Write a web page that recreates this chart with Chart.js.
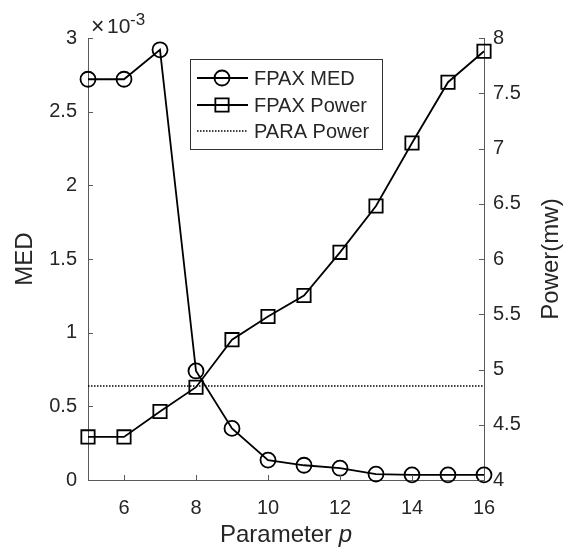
<!DOCTYPE html>
<html lang="en">
<head>
    <meta charset="UTF-8">
    <title>FPAX MED and Power vs Parameter p</title>
    <script src="https://cdn.jsdelivr.net/npm/chart.js"></script>
    <style>
        body { margin: 0; background: #fff; }
        canvas { display: block; }
    </style>
</head>
<body>
    <canvas id="med-chart" width="576" height="548"></canvas>

    <script>
        // Parameter p values (x axis)
        const paramP = [5, 6, 7, 8, 9, 10, 11, 12, 13, 14, 15, 16];
        // FPAX MED (left axis)
        const fpaxMed = [2.72e-3, 2.72e-3, 2.92e-3, 0.74e-3, 0.35e-3, 0.135e-3, 0.10e-3, 0.08e-3, 0.04e-3, 0.035e-3, 0.035e-3, 0.035e-3];
        // FPAX Power in mw (right axis)
        const fpaxPower = [4.39, 4.39, 4.62, 4.84, 5.27, 5.48, 5.67, 6.06, 6.48, 7.05, 7.60, 7.88];
        // PARA Power in mw, constant reference level
        const paraPower = 4.85;

        // tick positions
        const xTicks = [6, 8, 10, 12, 14, 16];
        const medTicks = [0, 0.5e-3, 1e-3, 1.5e-3, 2e-3, 2.5e-3, 3e-3];
        const powerTicks = [4, 4.5, 5, 5.5, 6, 6.5, 7, 7.5, 8];

        const FONT = '"Liberation Sans", Arial, Helvetica, sans-serif';
        const TEXT = '#262626';
        const AXIS = '#5a5a5a';

        const toPoints = (xs, ys) => xs.map((x, i) => ({ x: x, y: ys[i] }));
        const fixedTicks = arr => scale => { scale.ticks = arr.map(v => ({ value: v })); };

        // inward tick marks, titles and exponent label
        const decorations = {
            id: 'decorations',
            afterDraw(chart) {
                const { ctx, chartArea, scales } = chart;
                const len = 5;
                ctx.save();
                ctx.strokeStyle = AXIS;
                ctx.lineWidth = 1;
                ctx.beginPath();
                xTicks.forEach(v => {
                    const px = Math.round(scales.x.getPixelForValue(v)) + 0.5;
                    ctx.moveTo(px, chartArea.bottom);
                    ctx.lineTo(px, chartArea.bottom - len);
                });
                medTicks.forEach(v => {
                    const py = Math.round(scales.y.getPixelForValue(v)) + 0.5;
                    ctx.moveTo(chartArea.left, py);
                    ctx.lineTo(chartArea.left + len, py);
                });
                powerTicks.forEach(v => {
                    const py = Math.round(scales.y2.getPixelForValue(v)) + 0.5;
                    ctx.moveTo(chartArea.right, py);
                    ctx.lineTo(chartArea.right - len, py);
                });
                ctx.stroke();

                ctx.fillStyle = TEXT;
                // y titles
                ctx.font = '24px ' + FONT;
                ctx.textAlign = 'center';
                ctx.textBaseline = 'middle';
                const midY = (chartArea.top + chartArea.bottom) / 2;
                ctx.save();
                ctx.translate(25, midY);
                ctx.rotate(-Math.PI / 2);
                ctx.fillText('MED', 0, 0);
                ctx.restore();
                ctx.save();
                ctx.translate(551, midY);
                ctx.rotate(-Math.PI / 2);
                ctx.fillText('Power(mw)', 0, 0);
                ctx.restore();

                // x title with italic p
                const midX = (chartArea.left + chartArea.right) / 2;
                ctx.textAlign = 'left';
                ctx.textBaseline = 'alphabetic';
                const word = 'Parameter ';
                ctx.font = '24px ' + FONT;
                const w1 = ctx.measureText(word).width;
                ctx.font = 'italic 24px ' + FONT;
                const w2 = ctx.measureText('p').width;
                const startX = midX - (w1 + w2) / 2;
                ctx.font = '24px ' + FONT;
                ctx.fillText(word, startX, 542);
                ctx.font = 'italic 24px ' + FONT;
                ctx.fillText('p', startX + w1, 542);

                // exponent for the MED axis
                ctx.font = '23px ' + FONT;
                ctx.fillText('\u00d7', chartArea.left + 3, 34);
                ctx.font = '21px ' + FONT;
                ctx.fillText('10', chartArea.left + 19, 33);
                ctx.font = '17px ' + FONT;
                ctx.fillText('-3', chartArea.left + 42, 25);
                ctx.restore();
            }
        };

        // boxed legend inside the plot, line plus marker samples
        const boxLegend = {
            id: 'boxLegend',
            afterDatasetsDraw(chart) {
                const { ctx } = chart;
                const box = { x: 190.5, y: 59.5, w: 192, h: 90 };
                const rows = [78, 105, 131];
                ctx.save();
                ctx.fillStyle = '#fff';
                ctx.fillRect(box.x, box.y, box.w, box.h);
                ctx.strokeStyle = '#333';
                ctx.lineWidth = 1;
                ctx.strokeRect(box.x, box.y, box.w, box.h);

                chart.data.datasets.forEach((ds, i) => {
                    const y = rows[i];
                    ctx.strokeStyle = ds.borderColor;
                    ctx.lineWidth = ds.borderWidth;
                    ctx.setLineDash(ds.borderDash || []);
                    ctx.beginPath();
                    ctx.moveTo(197, y);
                    ctx.lineTo(248, y);
                    ctx.stroke();
                    ctx.setLineDash([]);
                    if (ds.pointRadius > 0) {
                        ctx.lineWidth = ds.pointBorderWidth;
                        ctx.fillStyle = 'rgba(0,0,0,0)';
                        Chart.helpers.drawPoint(ctx, {
                            pointStyle: ds.pointStyle,
                            radius: ds.pointRadius,
                            borderWidth: ds.pointBorderWidth,
                            rotation: 0
                        }, 222, y);
                    }
                    ctx.fillStyle = TEXT;
                    ctx.font = '20px ' + FONT;
                    ctx.textAlign = 'left';
                    ctx.textBaseline = 'middle';
                    ctx.fillText(ds.label, 254, y + 1);
                });
                ctx.restore();
            }
        };

        const ctx = document.getElementById('med-chart').getContext('2d');
        const chart = new Chart(ctx, {
            type: 'line',
            data: {
                datasets: [{
                    label: 'FPAX MED',
                    data: toPoints(paramP, fpaxMed),
                    yAxisID: 'y',
                    borderColor: '#000',
                    borderWidth: 1.8,
                    pointStyle: 'circle',
                    pointRadius: 7.5,
                    pointBorderWidth: 1.8,
                    pointBorderColor: '#000',
                    pointBackgroundColor: 'rgba(0,0,0,0)',
                    clip: false
                }, {
                    label: 'FPAX Power',
                    data: toPoints(paramP, fpaxPower),
                    yAxisID: 'y2',
                    borderColor: '#000',
                    borderWidth: 1.8,
                    pointStyle: 'rect',
                    pointRadius: 9.4,
                    pointBorderWidth: 1.8,
                    pointBorderColor: '#000',
                    pointBackgroundColor: 'rgba(0,0,0,0)',
                    clip: false
                }, {
                    label: 'PARA Power',
                    data: toPoints([paramP[0], paramP[paramP.length - 1]], [paraPower, paraPower]),
                    yAxisID: 'y2',
                    borderColor: '#000',
                    borderWidth: 1.5,
                    borderDash: [1.5, 1.5],
                    pointRadius: 0,
                    clip: false
                }]
            },
            options: {
                responsive: false,
                animation: false,
                layout: { padding: { top: 38, left: 0, right: 0, bottom: 0 } },
                plugins: {
                    legend: { display: false },
                    tooltip: { enabled: false }
                },
                scales: {
                    x: {
                        type: 'linear',
                        min: 5,
                        max: 16,
                        afterBuildTicks: fixedTicks(xTicks),
                        afterFit: s => { s.height = 68; },
                        grid: { display: false, drawTicks: false },
                        border: { display: true, color: AXIS, width: 1 },
                        ticks: {
                            padding: 16,
                            color: TEXT,
                            font: { family: FONT, size: 20 }
                        }
                    },
                    y: {
                        type: 'linear',
                        position: 'left',
                        min: 0,
                        max: 3e-3,
                        afterBuildTicks: fixedTicks(medTicks),
                        afterFit: s => { s.width = 88; },
                        grid: { display: false, drawTicks: false },
                        border: { display: true, color: AXIS, width: 1 },
                        ticks: {
                            padding: 11,
                            color: TEXT,
                            font: { family: FONT, size: 20 },
                            callback: v => String(Math.round(v * 1e4) / 10)
                        }
                    },
                    y2: {
                        type: 'linear',
                        position: 'right',
                        min: 4,
                        max: 8,
                        afterBuildTicks: fixedTicks(powerTicks),
                        afterFit: s => { s.width = 92; },
                        grid: { display: false, drawTicks: false },
                        border: { display: true, color: AXIS, width: 1 },
                        ticks: {
                            padding: 9,
                            color: TEXT,
                            font: { family: FONT, size: 20 },
                            callback: v => String(v)
                        }
                    }
                }
            },
            plugins: [boxLegend, decorations]
        });
    </script>
</body>
</html>
